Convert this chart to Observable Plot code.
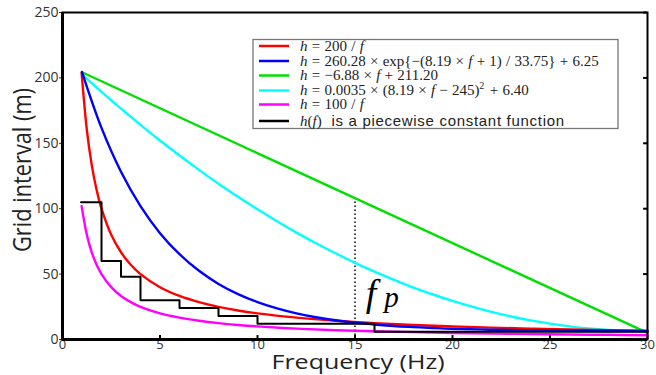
<!DOCTYPE html>
<html><head><meta charset="utf-8">
<script src="https://cdn.jsdelivr.net/npm/d3@7"></script>
<script src="https://cdn.jsdelivr.net/npm/@observablehq/plot@0.6"></script>
<style>body{margin:0;background:#fff}</style>
</head><body><div id="chart"></div>
<script>
// ---- data ----
const fDense = [0.98,1.25,1.5,1.75,2,2.5,3,3.5,4,5,6,7,8,9,10,12,14,16,18,20,22,24,26,28,30];
const hRed = [204,160,133.3,114.3,100,80,66.7,57.1,50,40,33.3,28.6,25,22.2,20,16.7,14.3,12.5,11.1,10,9.1,8.3,7.7,7.1,6.7];
const hMagenta = [102,80,66.7,57.1,50,40,33.3,28.6,25,20,16.7,14.3,12.5,11.1,10,8.3,7.1,6.3,5.6,5,4.5,4.2,3.8,3.6,3.3];
const fBlue = [1,2,3,4,5,6,7,8,9,10,11,12,13,14,15,16,17,18,19,20,22,24,26,28,30];
const hBlue = [204.5,161.8,128.3,102.0,81.3,65.2,52.5,42.5,34.7,28.6,23.8,20.0,17.0,14.7,12.9,11.5,10.3,9.5,8.8,8.2,7.5,7.0,6.7,6.5,6.4];
const fCyan = [1,2,3,4,5,6,7,8,9,10,11,12,13,14,15,16,17,18,19,20,21,22,23,24,25,26,27,28,29,30];
const hCyan = [202.7,189.3,176.5,164.1,152.1,140.7,129.7,119.1,109.1,99.5,90.4,81.7,73.6,65.9,58.6,51.9,45.6,39.7,34.4,29.5,25.1,21.1,17.6,14.6,12.1,10.0,8.4,7.3,6.6,6.4];
const fGreen = [1,30];
const hGreen = [204.3,5];
const fStep = [0.95,2,3,4,6,8,10,16,30];
const hStep = [105,60,48,30,24,18,12,6,6];
const fP = 15;
const fPTop = 108;
const xTicks = [0,5,10,15,20,25,30];
const yTicks = [0,50,100,150,200,250];
const seriesColors = ["#ff0000","#0000ff","#00e000","#00ffff","#ff00ff","#000000"];
const legendLabels = [
  "*h* = 200 / *f*",
  "*h* = 260.28 × exp{−(8.19 × *f* + 1) / 33.75} + 6.25",
  "*h* = −6.88 × *f* + 211.20",
  "*h* = 0.0035 × (8.19 × *f* − 245)^2^ + 6.40",
  "*h* = 100 / *f*",
  "*h*(*f*)|  is a piecewise constant function"
];
const xLabel = "Frequency (Hz)";
const yLabel = "Grid interval (m)";
const fpLabel = ["f", "p"];

const pts = (xs, ys) => xs.map((x, i) => ({x, y: ys[i]}));
const lw = 2.4;
const tickFont = "'Open Sans', sans-serif";

const plot = Plot.plot({
  width: 656, height: 375,
  marginLeft: 62, marginRight: 9, marginTop: 12, marginBottom: 36,
  style: {fontFamily: tickFont, fontSize: "14px", color: "#333", background: "#fff"},
  x: {domain: [0, 30]},
  y: {domain: [0, 250]},
  marks: [
    Plot.axisX({ticks: xTicks, tickSize: 0, tickPadding: 0, label: null, fontSize: 13}),
    Plot.axisY({ticks: yTicks, tickSize: 3, tickPadding: 1, label: null, fontSize: 14}),
    Plot.ruleX(xTicks, {x: d => d, y1: 0, y2: 3, stroke: "black", strokeWidth: 2}),
    Plot.ruleY(yTicks, {y: d => d, x1: 29.8, x2: 30, stroke: "black", strokeWidth: 2}),
    Plot.ruleX([fP], {y1: 0, y2: fPTop, stroke: "black", strokeWidth: 1.5, strokeDasharray: "1.5,2.5"}),
    Plot.line(pts(fCyan, hCyan), {x: "x", y: "y", stroke: seriesColors[3], strokeWidth: lw, curve: "catmull-rom"}),
    Plot.line(pts(fGreen, hGreen), {x: "x", y: "y", stroke: seriesColors[2], strokeWidth: lw}),
    Plot.line(pts(fDense, hMagenta), {x: "x", y: "y", stroke: seriesColors[4], strokeWidth: lw, curve: "catmull-rom"}),
    Plot.line(pts(fDense, hRed), {x: "x", y: "y", stroke: seriesColors[0], strokeWidth: lw, curve: "catmull-rom"}),
    Plot.line(pts(fBlue, hBlue), {x: "x", y: "y", stroke: seriesColors[1], strokeWidth: lw, curve: "catmull-rom"}),
    Plot.line(pts(fStep, hStep), {x: "x", y: "y", stroke: seriesColors[5], strokeWidth: 2, curve: "step-after"}),
    Plot.frame({stroke: "black", strokeWidth: 2}),
    Plot.ruleX([0], {stroke: "black", strokeWidth: 3}),
    Plot.ruleY([0], {stroke: "black", strokeWidth: 3})
  ]
});
document.getElementById("chart").appendChild(plot);

const sx = plot.scale("x"), sy = plot.scale("y");
const svg = d3.select(plot);

// f_p annotation
svg.append("text").attr("x", sx.apply(15.85)).attr("y", sy.apply(25.2)).attr("text-anchor", "middle")
  .attr("font-family", "'Liberation Serif', serif").attr("font-style", "italic").attr("font-size", 38)
  .attr("fill", "black").text(fpLabel[0]);
svg.append("text").attr("x", sx.apply(16.9)).attr("y", sy.apply(24.8)).attr("text-anchor", "middle")
  .attr("font-family", "'Liberation Serif', serif").attr("font-style", "italic").attr("font-size", 29)
  .attr("fill", "black").text(fpLabel[1]);

// axis titles
svg.append("text").attr("x", 358).attr("y", 369).attr("text-anchor", "middle")
  .attr("font-family", "'Open Sans', sans-serif").attr("font-size", 20).attr("fill", "#222")
  .attr("textLength", 173).attr("lengthAdjust", "spacingAndGlyphs").text(xLabel);
svg.append("text").attr("transform", "translate(31,170) rotate(-90)").attr("text-anchor", "middle")
  .attr("font-family", "'Open Sans', sans-serif").attr("font-size", 25).attr("fill", "#222")
  .attr("textLength", 164).attr("lengthAdjust", "spacingAndGlyphs").text(yLabel);

// legend
const lg = svg.append("g").attr("text-anchor", "start");
lg.append("rect").attr("x", 253).attr("y", 39.5).attr("width", 365).attr("height", 89)
  .attr("fill", "white").attr("stroke", "#777").attr("stroke-width", 1.3);
const rowY = [46, 61, 75.5, 90.5, 104.5, 121];
legendLabels.forEach((lab, i) => {
  const y = rowY[i];
  lg.append("line").attr("x1", 259).attr("x2", 289).attr("y1", y).attr("y2", y)
    .attr("stroke", seriesColors[i]).attr("stroke-width", 2.5);
  const t = lg.append("text").attr("x", 300).attr("y", y + 4.8).attr("text-anchor", "start")
    .attr("font-family", "'Liberation Serif', serif").attr("font-size", 15).attr("fill", "#222")
    .attr("word-spacing", 0.5);
  const [serifPart, sansPart] = lab.split("|");
  serifPart.split(/(\*[^*]+\*|\^[^^]+\^)/).filter(s => s).forEach(seg => {
    if (seg.startsWith("*")) t.append("tspan").attr("font-style", "italic").text(seg.slice(1, -1));
    else if (seg.startsWith("^")) {
      t.append("tspan").attr("font-size", 9.5).attr("dy", -6.5).text(seg.slice(1, -1));
      t.append("tspan").attr("dy", 6.5).text("\u200a");
    } else t.append("tspan").attr("xml:space", "preserve").text(seg);
  });
  if (sansPart) t.append("tspan").attr("font-family", "'Liberation Sans', sans-serif").attr("font-size", 15)
    .attr("letter-spacing", 0.7).attr("word-spacing", 0).attr("xml:space", "preserve").text(sansPart);
});
</script>
</body></html>
